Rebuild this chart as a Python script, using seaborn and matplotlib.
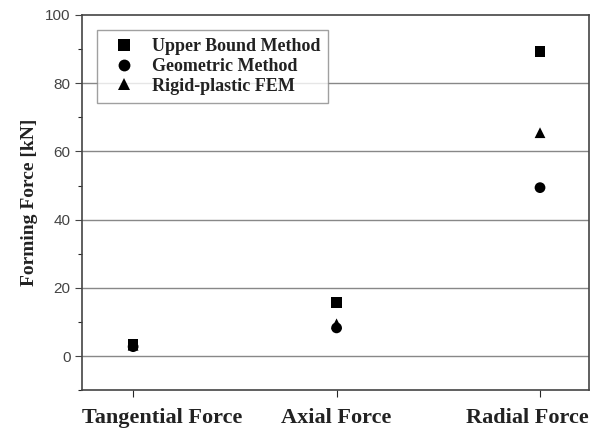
import pandas as pd
import seaborn as sns
import matplotlib.pyplot as plt
import matplotlib.transforms as mtransforms

categories = ['Tangential Force', 'Axial Force', 'Radial Force']
upper_bound = [3.4, 15.8, 89.2]
geometric = [2.8, 8.3, 49.4]
fem = [3.2, 9.5, 65.5]

methods = ['Upper Bound Method', 'Geometric Method', 'Rigid-plastic FEM']

rows = []
for name, vals in zip(methods, [upper_bound, geometric, fem]):
    for i, v in enumerate(vals):
        rows.append({'pos': i, 'force': v, 'method': name})
df = pd.DataFrame(rows)

sns.set_style("white")
plt.rcParams['font.family'] = ['Liberation Sans', 'DejaVu Sans']

fig, ax = plt.subplots(figsize=(5.96, 4.28), dpi=100)
fig.subplots_adjust(left=0.138, right=0.988, top=0.965, bottom=0.088)

sns.scatterplot(data=df, x='pos', y='force', style='method', style_order=methods,
                markers={'Upper Bound Method': 's', 'Geometric Method': 'o',
                         'Rigid-plastic FEM': '^'},
                color='black', s=60, edgecolor='black', linewidth=0, ax=ax, zorder=3)

ax.set_xlim(-0.25, 2.24)
ax.set_ylim(-10, 100)
ax.set_yticks([0, 20, 40, 60, 80, 100])
ax.set_yticks([-10, 10, 30, 50, 70, 90], minor=True)
ax.set_xticks([0, 1, 2])
ax.set_xticklabels(categories, family=['Liberation Serif'], fontweight='bold', fontsize=16)
ax.tick_params(axis='y', which='major', direction='out', length=5, width=0.8,
               labelsize=11, colors='#444444', left=True)
ax.tick_params(axis='y', which='minor', direction='out', length=3, width=0.8, left=True)
ax.tick_params(axis='x', which='major', direction='out', length=5, width=0.8, bottom=True, pad=8)

# labels in the original sit a little off their ticks
label_shift = [0.29, 0.0, -0.13]
for lbl, dx in zip(ax.get_xticklabels(), label_shift):
    lbl.set_color('#222222')
    lbl.set_transform(lbl.get_transform() + mtransforms.ScaledTranslation(dx, 0, fig.dpi_scale_trans))

for y in [0, 20, 40, 60, 80]:
    ax.axhline(y, color='#888888', linewidth=1.0, zorder=1)

for sp in ax.spines.values():
    sp.set_color('#444444')
    sp.set_linewidth(1.2)

ax.set_xlabel('')
ax.set_ylabel('Forming Force [kN]', family=['Liberation Serif'], fontweight='bold',
              fontsize=14, color='#222222', labelpad=5)

leg = ax.legend(loc='upper left', bbox_to_anchor=(0.03, 0.96), borderaxespad=0,
                frameon=True, fancybox=False,
                prop={'family': 'Liberation Serif', 'weight': 'bold', 'size': 13},
                handletextpad=0.55, borderpad=0.45, labelspacing=0.15, markerscale=1.1)
leg.get_frame().set_edgecolor('#888888')
leg.get_frame().set_linewidth(1.0)
for t in leg.get_texts():
    t.set_color('#222222')

plt.savefig('out.png', dpi=100)
